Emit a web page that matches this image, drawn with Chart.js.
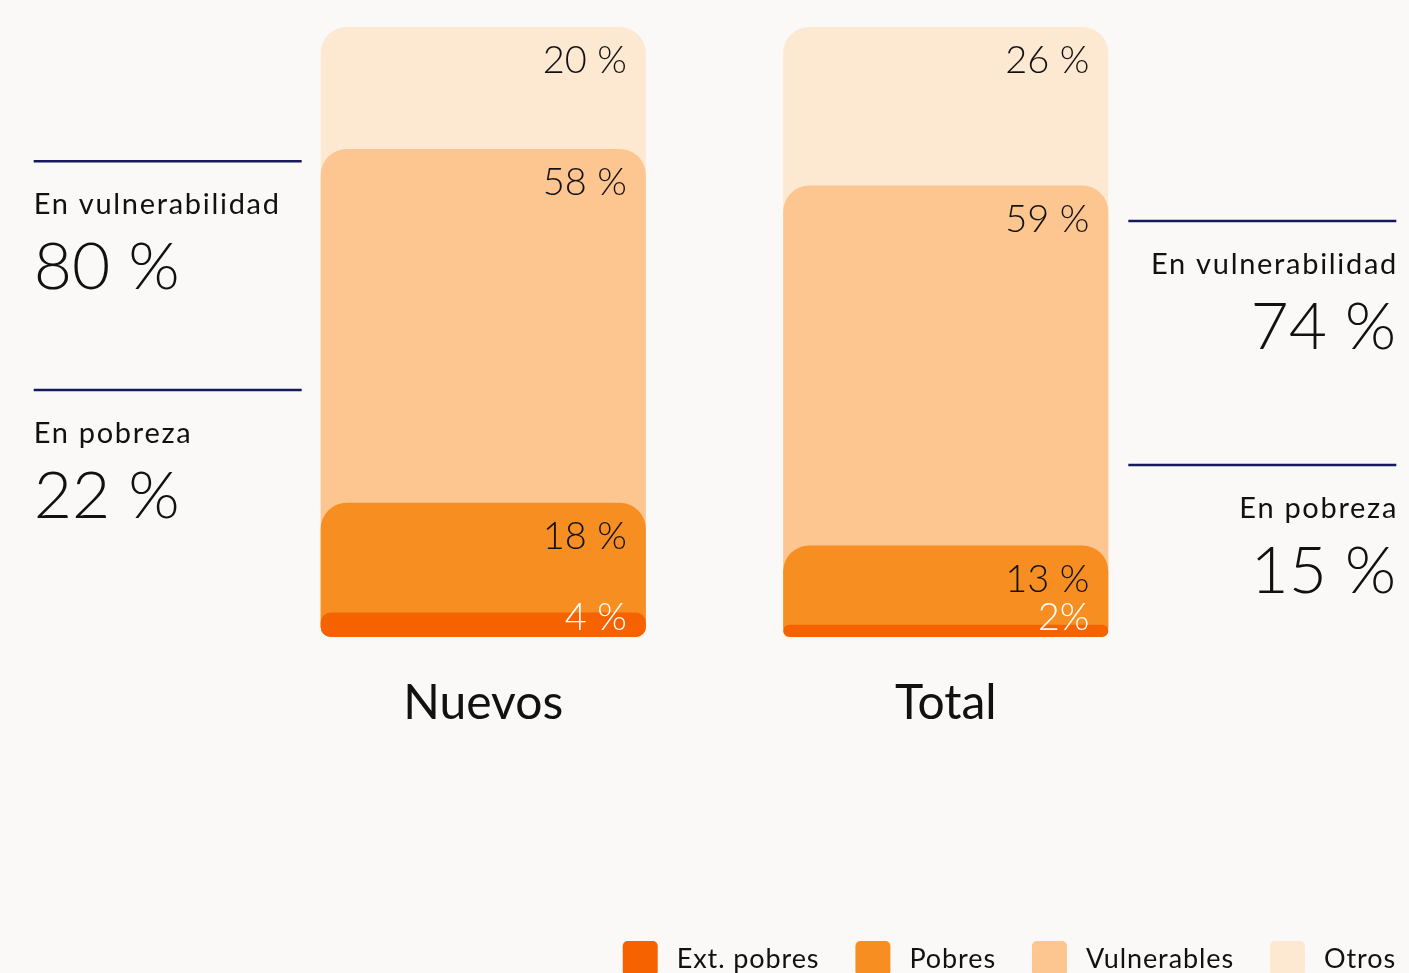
<!DOCTYPE html>
<html lang="es">
<head>
  <meta charset="UTF-8">
  <meta name="viewport" content="width=device-width, initial-scale=1.0">
  <title>Nuevos y Total</title>
  <script src="https://cdn.jsdelivr.net/npm/chart.js"></script>
  <style>
    html, body { margin: 0; padding: 0; background: #faf9f7; overflow: hidden; }
    #wrap { width: 1409px; height: 973px; }
  </style>
</head>
<body>
  <div id="wrap"><canvas id="myChart"></canvas></div>
<script>
  const categories = ['Nuevos', 'Total'];
  const seriesNames = ['Ext. pobres', 'Pobres', 'Vulnerables', 'Otros'];
  const extPobres = [4, 2];
  const pobres = [18, 13];
  const vulnerables = [58, 59];
  const otros = [20, 26];
  const extPobresLabels = ['4 %', '2%'];
  const pobresLabels = ['18 %', '13 %'];
  const vulnerablesLabels = ['58 %', '59 %'];
  const otrosLabels = ['20 %', '26 %'];
  const seriesColors = ['#f76200', '#f68e21', '#fdc690', '#fde8d2'];

  // notes at the side of each bar
  const noteTitles = ['En vulnerabilidad', 'En pobreza'];
  const nuevosNotes = ['80 %', '22 %'];
  const totalNotes = ['74 %', '15 %'];
  // height of the separator lines, on the y axis (0-100)
  const nuevosNoteLevels = [78, 40.5];
  const totalNoteLevels = [68.2, 28.2];

  const series = [extPobres, pobres, vulnerables, otros];
  const seriesLabels = [extPobresLabels, pobresLabels, vulnerablesLabels, otrosLabels];
  // each layer is drawn from 0 up to its running total, smaller ones on top
  const tops = series.map((s, i) =>
    s.map((v, j) => series.slice(0, i + 1).reduce((a, b) => a + b[j], 0)));

  const overlay = {
    id: 'overlay',
    afterDatasetsDraw(chart) {
      const ctx = chart.ctx;
      const y = chart.scales.y;
      ctx.save();

      // value labels inside the bars
      ctx.textAlign = 'right';
      ctx.textBaseline = 'alphabetic';
      ctx.font = '300 38px Lato';
      series.forEach((s, i) => {
        chart.getDatasetMeta(i).data.forEach((bar, j) => {
          const right = bar.x + bar.width / 2 - 19;
          const ty = i === 0 ? bar.base - 7 : bar.y + 46;
          ctx.fillStyle = i === 0 ? '#ffffff' : '#111111';
          ctx.fillText(seriesLabels[i][j], right, ty);
        });
      });

      // side notes
      const bars = chart.getDatasetMeta(3).data;
      const drawNote = (x0, x1, level, title, value, align) => {
        const ly = y.getPixelForValue(level);
        ctx.strokeStyle = '#141a5b';
        ctx.lineWidth = 2.5;
        ctx.beginPath();
        ctx.moveTo(x0, ly);
        ctx.lineTo(x1, ly);
        ctx.stroke();
        ctx.fillStyle = '#111111';
        ctx.textAlign = align;
        const tx = align === 'left' ? x0 : x1;
        ctx.font = '400 29px Lato';
        ctx.letterSpacing = '1.7px';
        ctx.fillText(title, align === 'left' ? tx : tx + 1.7, ly + 53);
        ctx.letterSpacing = '0px';
        ctx.font = '300 66px Lato';
        ctx.fillText(value, tx, ly + 128);
      };
      const nLeft = bars[0].x - bars[0].width / 2 - 19;
      const tRight = bars[1].x + bars[1].width / 2 + 20;
      noteTitles.forEach((t, k) => {
        drawNote(nLeft - 268, nLeft, nuevosNoteLevels[k], t, nuevosNotes[k], 'left');
        drawNote(tRight, tRight + 268, totalNoteLevels[k], t, totalNotes[k], 'right');
      });

      // legend, right aligned at the bottom
      ctx.font = '400 27px Lato';
      ctx.letterSpacing = '0.9px';
      ctx.textAlign = 'left';
      const widths = seriesNames.map(n => 35 + 19 + ctx.measureText(n).width);
      let lx = chart.width - 13 - widths.reduce((a, b) => a + b, 0) - 36 * (seriesNames.length - 1);
      seriesNames.forEach((n, i) => {
        ctx.fillStyle = seriesColors[i];
        ctx.beginPath();
        ctx.roundRect(lx, 941, 35, 35, 5);
        ctx.fill();
        ctx.fillStyle = '#111111';
        ctx.fillText(n, lx + 54, 968);
        lx += widths[i] + 36;
      });
      ctx.restore();
    }
  };

  new Chart(document.getElementById('myChart'), {
    type: 'bar',
    data: {
      labels: categories,
      datasets: series.map((s, i) => ({
        label: seriesNames[i],
        data: tops[i],
        backgroundColor: seriesColors[i],
        borderSkipped: false,
        borderRadius: i === 0 ? 10 : { topLeft: 26, topRight: 26, bottomLeft: 10, bottomRight: 10 },
        barPercentage: 1,
        categoryPercentage: 0.703
      }))
    },
    options: {
      responsive: true,
      maintainAspectRatio: false,
      animation: false,
      layout: { padding: { top: 27, left: 252, right: 232, bottom: 236 } },
      plugins: {
        legend: { display: false },
        tooltip: { enabled: false }
      },
      scales: {
        x: {
          stacked: true,
          grid: { display: false, drawTicks: false },
          border: { display: false },
          ticks: { color: '#111111', font: { family: 'Lato', size: 48 }, padding: 38 },
          afterFit(scale) { scale.height = 100; }
        },
        y: {
          stacked: false,
          display: false,
          min: 0,
          max: 100
        }
      }
    },
    plugins: [overlay]
  });
</script>
</body>
</html>
